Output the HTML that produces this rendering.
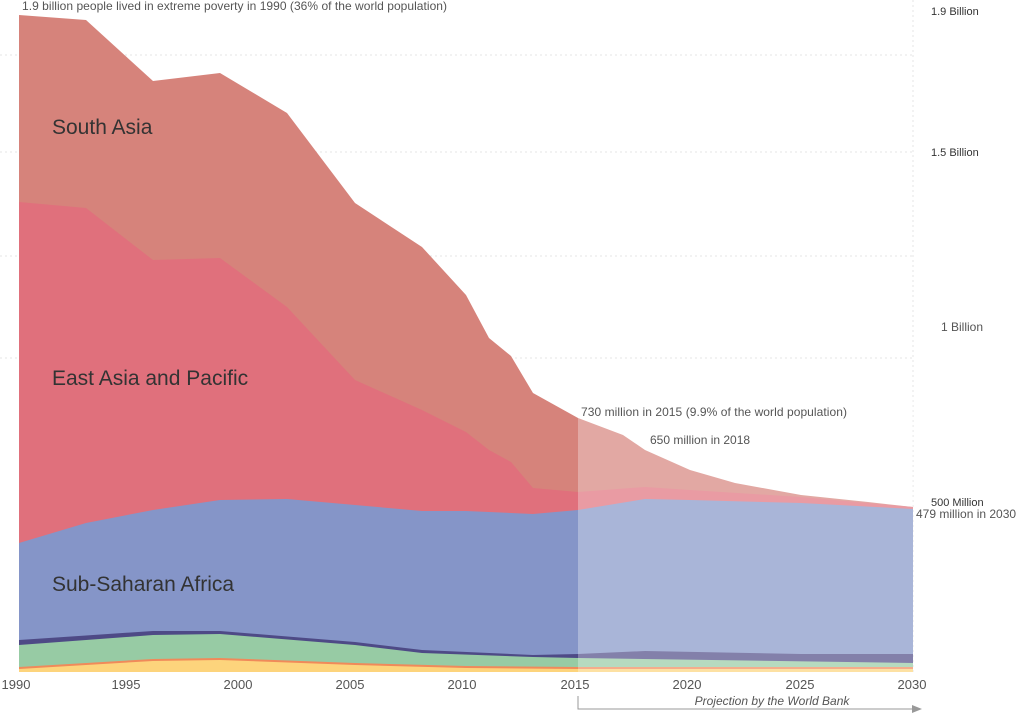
<!DOCTYPE html>
<html><head><meta charset="utf-8"><style>
html,body{margin:0;padding:0;background:#fff}
svg{display:block;font-family:"Liberation Sans",sans-serif}
</style></head><body>
<svg width="1024" height="716" viewBox="0 0 1024 716">
<g stroke="#e4e4e4" stroke-dasharray="2,3" stroke-width="1">
<line x1="0" y1="152" x2="913" y2="152"/><line x1="0" y1="256" x2="913" y2="256"/>
<line x1="0" y1="358" x2="913" y2="358"/><line x1="0" y1="55" x2="913" y2="55"/>
<line x1="913" y1="0" x2="913" y2="672"/>
</g>
<path fill="#d6837b" d="M19,15 L86,20 L153,81 L220,73 L287,113 L355,203 L422,247 L466,295 L489,338 L511,356 L533,393 L578,418 L623,435 L645,450 L690,470 L735,483 L801,495 L868,502 L913,507 L913,672 L19,672Z"/>
<path fill="#e0707c" d="M19,202 L86,208 L153,260 L220,258 L287,307 L355,380 L422,410 L466,432 L489,450 L511,462 L533,488 L578,492 L645,487 L690,490 L801,497 L913,507 L913,672 L19,672Z"/>
<path fill="#8595c8" d="M19,543 L86,523 L153,510 L220,500 L287,499 L355,505 L422,511 L466,511 L533,514 L578,510 L645,499 L690,500 L801,503 L913,509 L913,672 L19,672Z"/>
<path fill="#4e4a86" d="M19,640 L153,631 L220,631 L355,642 L422,650 L533,655 L578,654 L645,651 L801,654 L913,654 L913,672 L19,672Z"/>
<path fill="#97cba4" d="M19,645 L153,635 L220,634 L355,645 L422,653 L533,657 L578,658 L913,663 L913,672 L19,672Z"/>
<path fill="#f08a5a" d="M19,667 L153,659 L220,658 L355,663 L466,666 L578,667 L913,667 L913,672 L19,672Z"/>
<path fill="#fdd47c" d="M19,669 L153,661 L220,660 L355,665 L466,668 L578,669 L913,669 L913,672 L19,672Z"/>
<rect x="578" y="400" width="335" height="272" fill="#fff" opacity="0.3"/>
<g font-size="21" fill="#333">
<text x="52" y="134">South Asia</text>
<text x="52" y="385">East Asia and Pacific</text>
<text x="52" y="591">Sub-Saharan Africa</text>
</g>
<g font-size="12" fill="#555">
<text x="22" y="10" textLength="425">1.9 billion people lived in extreme poverty in 1990 (36% of the world population)</text>
<text x="581" y="416" textLength="266">730 million in 2015 (9.9% of the world population)</text>
<text x="650" y="444">650 million in 2018</text>
<text x="916" y="518">479 million in 2030</text>
<text x="941" y="331">1 Billion</text>
</g>
<g font-size="11" fill="#333">
<text x="931" y="15">1.9 Billion</text>
<text x="931" y="156">1.5 Billion</text>
<text x="931" y="506">500 Million</text>
</g>
<g font-size="13" fill="#555" text-anchor="middle">
<text x="16" y="689">1990</text><text x="126" y="689">1995</text><text x="238" y="689">2000</text>
<text x="350" y="689">2005</text><text x="462" y="689">2010</text><text x="575" y="689">2015</text>
<text x="687" y="689">2020</text><text x="800" y="689">2025</text><text x="912" y="689">2030</text>
</g>
<text x="772" y="705" font-size="12" font-style="italic" fill="#555" text-anchor="middle">Projection by the World Bank</text>
<path d="M578,696 V709 H918" fill="none" stroke="#999" stroke-width="1"/>
<path d="M912,705 L922,709 L912,713Z" fill="#999"/>
</svg>
</body></html>
